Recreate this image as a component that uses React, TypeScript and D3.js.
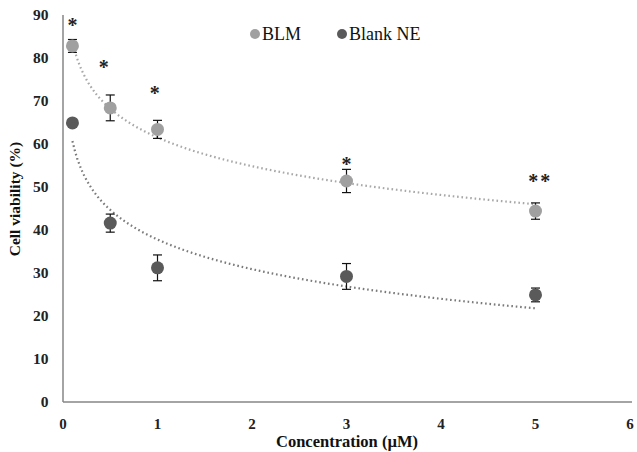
import React from "react";
import * as d3 from "d3";

const concentrations = [0.1, 0.5, 1, 3, 5];
const blmValues = [82.8, 68.4, 63.4, 51.4, 44.4];
const blmErrors = [1.5, 3.0, 2.1, 2.7, 1.9];
const blankValues = [64.9, 41.6, 31.2, 29.2, 24.9];
const blankErrors = [0.5, 2.1, 3.0, 3.0, 1.6];
const xTicks = [0, 1, 2, 3, 4, 5, 6];
const yTicks = [0, 10, 20, 30, 40, 50, 60, 70, 80, 90];
const starX = [0.1, 0.43, 0.97, 3.0, 5.05];
const starY = [88.4, 78.6, 72.6, 56.0, 52.1];
const starLabels = ["*", "*", "*", "*", "**"];

const W = 637;
const H = 452;

function logFit(xs: number[], ys: number[]) {
  const lx = xs.map((v) => Math.log(v));
  const mx = d3.mean(lx)!;
  const my = d3.mean(ys)!;
  let sxy = 0, sxx = 0;
  lx.forEach((v, i) => {
    sxy += (v - mx) * (ys[i] - my);
    sxx += (v - mx) * (v - mx);
  });
  const b = sxy / sxx;
  const a = my - b * mx;
  return (x: number) => a + b * Math.log(x);
}

export default function App() {
  const x = d3.scaleLinear().domain([0, 6]).range([63, 630]);
  const y = d3.scaleLinear().domain([0, 90]).range([402, 15]);
  const series = [
    { name: "BLM", vals: blmValues, errs: blmErrors, color: "#a0a0a0", trend: "#a8a8a8" },
    { name: "Blank NE", vals: blankValues, errs: blankErrors, color: "#5a5a5a", trend: "#7a7a7a" },
  ];
  const font = "'Liberation Serif', 'Times New Roman', serif";
  const line = d3.line<[number, number]>().x((d) => x(d[0])).y((d) => y(d[1]));
  const xs = d3.range(0, 201).map((i) => 0.1 + (4.9 * i) / 200);

  return (
    <svg width={W} height={H} style={{ position: "absolute", left: 0, top: 0, background: "#fff" }} fontFamily={font}>
      {/* axes */}
      <line x1={x(0)} x2={632} y1={y(0)} y2={y(0)} stroke="#868686" strokeWidth={1.5} />
      <line x1={x(0)} x2={x(0)} y1={y(0)} y2={y(90)} stroke="#868686" strokeWidth={1.5} />
      {yTicks.map((t) => (
        <text key={"y" + t} x={48.5} y={y(t)} dy="0.35em" textAnchor="end" fontSize={15.5} fontWeight="bold" fill="#222">
          {t}
        </text>
      ))}
      {xTicks.map((t) => (
        <text key={"x" + t} x={x(t)} y={429} textAnchor="middle" fontSize={15} fontWeight="bold" fill="#222">
          {t}
        </text>
      ))}
      <text x={347} y={447} textAnchor="middle" fontSize={16.5} fontWeight="bold" fill="#111">
        Concentration (µM)
      </text>
      <text transform={`translate(20,${199}) rotate(-90)`} textAnchor="middle" fontSize={15.5} fontWeight="bold" fill="#111">
        Cell viability (%)
      </text>
      {/* trend lines */}
      {series.map((s) => {
        const f = logFit(concentrations, s.vals);
        return (
          <path key={"t" + s.name} d={line(xs.map((v) => [v, f(v)]))!} fill="none" stroke={s.trend}
            strokeWidth={2.2} strokeDasharray="1.6,2.8" />
        );
      })}
      {/* error bars and points */}
      {series.map((s) => (
        <g key={s.name}>
          {concentrations.map((c, i) => {
            const cx = x(c);
            const top = y(s.vals[i] + s.errs[i]);
            const bot = y(s.vals[i] - s.errs[i]);
            return (
              <g key={i}>
                <line x1={cx} x2={cx} y1={top} y2={bot} stroke="#111" strokeWidth={1.2} />
                <line x1={cx - 4.5} x2={cx + 4.5} y1={top} y2={top} stroke="#111" strokeWidth={1.2} />
                <line x1={cx - 4.5} x2={cx + 4.5} y1={bot} y2={bot} stroke="#111" strokeWidth={1.2} />
                <circle cx={cx} cy={y(s.vals[i])} r={6.5} fill={s.color} />
              </g>
            );
          })}
        </g>
      ))}
      {/* significance stars */}
      {starX.map((sx, i) => (
        <text key={"s" + i} x={x(sx)} y={y(starY[i]) + 10} textAnchor="middle" fontSize={20} fontWeight="bold" fill="#222"
          letterSpacing={starLabels[i].length > 1 ? 2 : 0}>
          {starLabels[i]}
        </text>
      ))}
      {/* legend */}
      <circle cx={255} cy={34} r={5} fill="#a0a0a0" />
      <text x={262} y={40} fontSize={18} fill="#111">BLM</text>
      <circle cx={342} cy={34} r={5} fill="#5a5a5a" />
      <text x={349} y={40} fontSize={18} fill="#111">Blank NE</text>
    </svg>
  );
}
